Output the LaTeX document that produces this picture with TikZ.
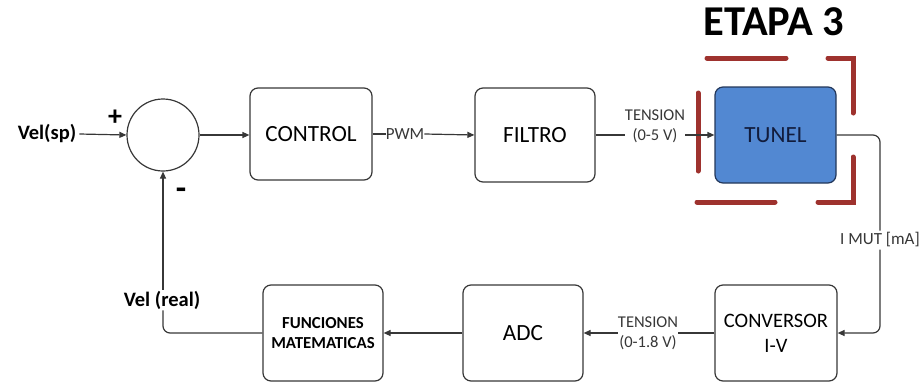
\documentclass[tikz,border=0pt]{standalone}
\usepackage{fontspec}
\setmainfont{Carlito}
\usetikzlibrary{arrows.meta}
\definecolor{lineC}{RGB}{55,55,55}
\definecolor{tunelfill}{RGB}{82,136,210}
\definecolor{tuneldraw}{RGB}{35,55,90}
\definecolor{tuneltext}{RGB}{18,28,60}
\definecolor{bracketC}{RGB}{158,50,46}
\tikzset{
  blk/.style={draw=lineC, line width=1.2pt, rounded corners=8pt, align=center, inner sep=0pt, font=\fontsize{23.2}{26}\selectfont},
  lbl/.style={align=center, inner sep=0pt, font=\fontsize{16.5}{20}\selectfont, text=lineC},
  conn/.style={draw=lineC, line width=1.2pt},
  arr/.style={conn, -{Triangle[length=7pt,width=6pt]}},
  brk/.style={draw=bracketC, line width=5pt, line cap=round},
}
\begin{document}
\begin{tikzpicture}[x=1pt,y=-1pt]
\useasboundingbox (0,0) rectangle (921,383);
% title
\node[font=\bfseries\fontsize{42.5}{46}\selectfont, inner sep=0pt] (etapa) at (774,22) {ETAPA 3};
% nodes
\node[font=\bfseries\fontsize{20.5}{24}\selectfont, inner sep=0pt] (velsp) at (47,134) {Vel(sp)};
\node[draw=lineC, line width=1.2pt, circle, minimum size=72pt, inner sep=0pt] (sum) at (163,135) {};
\node[font=\bfseries\fontsize{28}{30}\selectfont, inner sep=0pt] (plus) at (115,118) {+};
\node[font=\bfseries\fontsize{34}{36}\selectfont, inner sep=0pt] (minus) at (181,194) {-};
\node[blk, minimum width=122pt, minimum height=92pt] (control) at (311,134) {CONTROL};
\node[blk, minimum width=120pt, minimum height=94pt] (filtro) at (535,135) {FILTRO};
\node[blk, draw=tuneldraw, fill=tunelfill, text=tuneltext, minimum width=121pt, minimum height=96pt] (tunel) at (775.5,135) {TUNEL};
\node[blk, minimum width=122pt, minimum height=96pt, font=\fontsize{20.5}{25}\selectfont] (conv) at (776,333) {CONVERSOR\\I-V};
\node[blk, minimum width=120pt, minimum height=96pt] (adc) at (523,333) {ADC};
\node[blk, minimum width=120pt, minimum height=96pt, font=\bfseries\fontsize{16.8}{20}\selectfont] (func) at (323,333) {FUNCIONES\\MATEMATICAS};
% labels
\node[lbl, font=\fontsize{17}{20}\selectfont] (pwm) at (405,134) {PWM};
\node[lbl] (t1) at (655,126) {TENSION\\(0-5 V)};
\node[lbl] (t2) at (648,333) {TENSION\\(0-1.8 V)};
\node[lbl, fill=white, inner sep=2pt, font=\fontsize{17}{20}\selectfont] (imut) at (880,240) {I MUT [mA]};
\node[font=\bfseries\fontsize{20.5}{24}\selectfont, inner sep=1pt, fill=white] (velreal) at (162,300) {Vel (real)};
% brackets
\draw[brk] (698,93) -- (698,171);
\draw[brk] (707,58) -- (786,58);
\draw[brk] (828,58) -- (853,58) -- (853,113);
\draw[brk] (853,157) -- (853,202) -- (818,202);
\draw[brk] (697,202) -- (775,202);
% connectors
\draw[arr] (velsp.east) ++(3,0) -- (sum.west);
\draw[arr] (sum.east) -- (control.west |- sum.east);
\draw[conn] (control.east) -- (pwm.west);
\draw[arr] (pwm.east) -- (filtro.west);
\draw[conn] (filtro.east) -- (filtro.east -| t1.west);
\draw[arr] (t1.east |- filtro.east) -- (tunel.west);
\draw[conn, rounded corners=7pt] (tunel.east) -| (imut.north);
\draw[arr, rounded corners=7pt] (imut.south) |- (conv.east);
\draw[conn] (conv.west) -- (t2.east);
\draw[arr] (t2.west) -- (adc.east);
\draw[arr] (adc.west) -- (func.east);
\draw[conn, rounded corners=7pt] (func.west) -| (velreal.south -| sum.south);
\draw[arr] (velreal.north -| sum.south) -- (sum.south);
\end{tikzpicture}
\end{document}
